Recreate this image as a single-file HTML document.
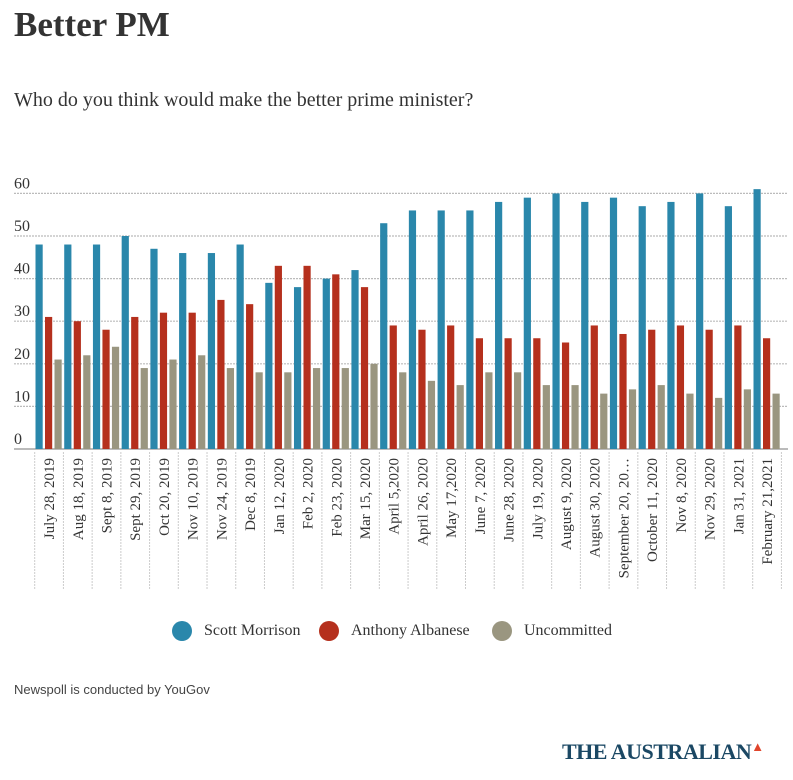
<!DOCTYPE html>
<html><head><meta charset="utf-8"><style>
body{margin:0;width:793px;height:780px;background:#fff;overflow:hidden;position:relative;font-family:"Liberation Serif",serif;color:#333}
.t{position:absolute;white-space:nowrap}
</style></head><body>
<div class="t" style="left:14px;top:5px;font-size:35px;font-weight:bold;color:#333">Better PM</div>
<div class="t" style="left:14px;top:89px;font-size:20px;color:#333">Who do you think would make the better prime minister?</div>
<svg id="chart" width="793" height="600" style="position:absolute;left:0;top:0" xmlns="http://www.w3.org/2000/svg"></svg>
<div class="t" style="left:172px;top:620px;font-size:16px;line-height:21px"><span style="display:inline-block;width:20px;height:20px;border-radius:50%;background:#2a87ab;vertical-align:middle;margin-right:12px"></span>Scott Morrison</div>
<div class="t" style="left:319px;top:620px;font-size:16px;line-height:21px"><span style="display:inline-block;width:20px;height:20px;border-radius:50%;background:#b5301d;vertical-align:middle;margin-right:12px"></span>Anthony Albanese</div>
<div class="t" style="left:492px;top:620px;font-size:16px;line-height:21px"><span style="display:inline-block;width:20px;height:20px;border-radius:50%;background:#9a9680;vertical-align:middle;margin-right:12px"></span>Uncommitted</div>
<div class="t" style="left:14px;top:682px;font-size:13px;font-family:'Liberation Sans',sans-serif;color:#444">Newspoll is conducted by YouGov</div>
<div class="t" style="left:562px;top:739px;font-size:22px;font-weight:bold;color:#1b4864;letter-spacing:-0.5px">THE AUSTRALIAN<span style="color:#e0452c;font-size:13px;vertical-align:top">&#9650;</span></div>
<script>
const categories=["July 28, 2019","Aug 18, 2019","Sept 8, 2019","Sept 29, 2019","Oct 20, 2019","Nov 10, 2019","Nov 24, 2019","Dec 8, 2019","Jan 12, 2020","Feb 2, 2020","Feb 23, 2020","Mar 15, 2020","April 5,2020","April 26, 2020","May 17,2020","June 7, 2020","June 28, 2020","July 19, 2020","August 9, 2020","August 30, 2020","September 20, 20\u2026","October 11, 2020","Nov 8, 2020","Nov 29, 2020","Jan 31, 2021","February 21,2021"];
const morrison=[48,48,48,50,47,46,46,48,39,38,40,42,53,56,56,56,58,59,60,58,59,57,58,60,57,61];
const albanese=[31,30,28,31,32,32,35,34,43,43,41,38,29,28,29,26,26,26,25,29,27,28,29,28,29,26];
const uncommitted=[21,22,24,19,21,22,19,18,18,19,19,20,18,16,15,18,18,15,15,13,14,15,13,12,14,13];
const yTicks=[0,10,20,30,40,50,60];
const svg=document.getElementById('chart');
const NS='http://www.w3.org/2000/svg';
const x0=34.7,gw=28.72,y0=449,k=4.26;
const y=v=>y0-v*k;
const gx=i=>x0+i*gw;
function mk(t,a){const e=document.createElementNS(NS,t);for(const n in a)e.setAttribute(n,a[n]);svg.appendChild(e);return e;}
yTicks.forEach(v=>{
 const l=mk('line',{x1:14,x2:788,y1:y(v),y2:y(v),stroke:'#bbb','stroke-width':v===0?2:1.2,'stroke-dasharray':v===0?'':'2,1'});
 
 
 const t=mk('text',{x:14,y:y(v)-5,'font-size':16,fill:'#333','font-family':'Liberation Serif, serif'});
 t.textContent=v;
 
 
});
const series=[[morrison,'#2a87ab','morrison'],[albanese,'#b5301d','albanese'],[uncommitted,'#9a9680','uncommitted']];
categories.forEach((c,i)=>{
 const tl=mk('line',{x1:gx(i),x2:gx(i),y1:452,y2:590,stroke:'#ccc','stroke-width':1,'stroke-dasharray':'2,1'});
 
 
 series.forEach((s,j)=>{
  const v=s[0][i];
  const r=mk('rect',{x:gx(i)+0.8+j*9.5,y:y(v),width:7.2,height:v*k,fill:s[1]});
  
  
 });
 const cx=gx(i)+gw/2+5;
 const t=mk('text',{x:0,y:0,transform:`translate(${cx},458) rotate(-90)`,'text-anchor':'end','font-size':15,fill:'#333','font-family':'Liberation Serif, serif'});
 t.textContent=c;
 
 
});
const el=mk('line',{x1:gx(categories.length),x2:gx(categories.length),y1:452,y2:590,stroke:'#ccc','stroke-dasharray':'2,1'});


</script>
</body></html>
